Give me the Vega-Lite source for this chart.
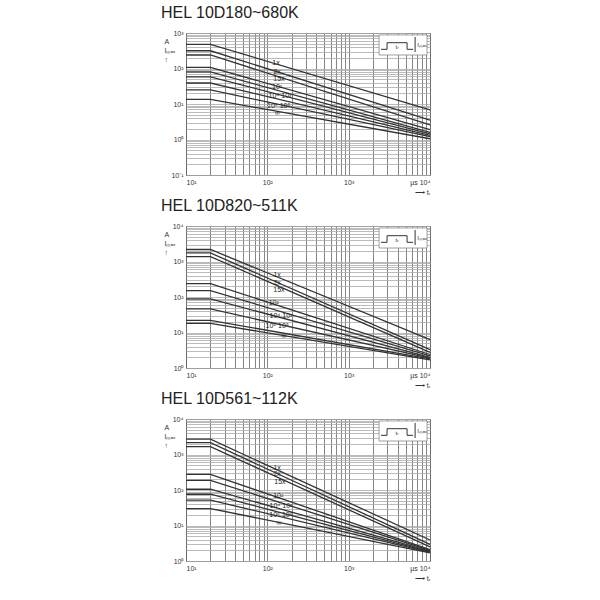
{
"$schema": "https://vega.github.io/schema/vega-lite/v6.json",
"padding": {"left": 160, "top": 4, "right": 5, "bottom": 5},
"background": "white",
"spacing": 1,
"config": {
  "font": "Liberation Sans",
  "view": {"stroke": "#777", "strokeWidth": 1},
  "axis": {"ticks": false, "domain": false, "grid": true, "labelFontSize": 7, "labelColor": "#333", "labelOverlap": false, "titleFontSize": 7, "titleFontWeight": "normal", "titleColor": "#333"},
  "axisX": {"gridColor": "#666", "gridWidth": 0.8, "labelPadding": 3},
  "axisY": {"gridColor": "#aaa", "gridWidth": 0.8, "labelPadding": 3},
  "title": {"anchor": "start", "frame": "group", "dx": -25, "fontSize": 16, "fontWeight": "normal", "color": "#222", "offset": 8}
},
"datasets": {
  "curves": [
    {"p":1,"c":"1x","t":10,"i":480},{"p":1,"c":"1x","t":20,"i":480},{"p":1,"c":"1x","t":10000,"i":6.8},
    {"p":1,"c":"2x","t":10,"i":316},{"p":1,"c":"2x","t":20,"i":316},{"p":1,"c":"2x","t":10000,"i":3.5},
    {"p":1,"c":"15x","t":10,"i":240},{"p":1,"c":"15x","t":20,"i":240},{"p":1,"c":"15x","t":10000,"i":2.6},
    {"p":1,"c":"1e2","t":10,"i":108},{"p":1,"c":"1e2","t":20,"i":108},{"p":1,"c":"1e2","t":10000,"i":1.9},
    {"p":1,"c":"1e3","t":10,"i":80},{"p":1,"c":"1e3","t":20,"i":80},{"p":1,"c":"1e3","t":10000,"i":1.6},
    {"p":1,"c":"1e4","t":10,"i":58},{"p":1,"c":"1e4","t":20,"i":58},{"p":1,"c":"1e4","t":10000,"i":1.45},
    {"p":1,"c":"1e5","t":10,"i":39},{"p":1,"c":"1e5","t":20,"i":39},{"p":1,"c":"1e5","t":10000,"i":1.3},
    {"p":1,"c":"1e6","t":10,"i":25},{"p":1,"c":"1e6","t":20,"i":25},{"p":1,"c":"1e6","t":10000,"i":1.2},
    {"p":1,"c":"inf","t":10,"i":13.5},{"p":1,"c":"inf","t":20,"i":13.5},{"p":1,"c":"inf","t":10000,"i":1.05},
    {"p":2,"c":"1x","t":10,"i":2180},{"p":2,"c":"1x","t":20,"i":2180},{"p":2,"c":"1x","t":10000,"i":6.3},
    {"p":2,"c":"2x","t":10,"i":1740},{"p":2,"c":"2x","t":20,"i":1740},{"p":2,"c":"2x","t":10000,"i":3.3},
    {"p":2,"c":"15x","t":10,"i":1380},{"p":2,"c":"15x","t":20,"i":1380},{"p":2,"c":"15x","t":10000,"i":2.75},
    {"p":2,"c":"1e2","t":10,"i":237},{"p":2,"c":"1e2","t":20,"i":237},{"p":2,"c":"1e2","t":10000,"i":2.4},
    {"p":2,"c":"1e3","t":10,"i":151},{"p":2,"c":"1e3","t":20,"i":151},{"p":2,"c":"1e3","t":10000,"i":2.2},
    {"p":2,"c":"1e4","t":10,"i":88},{"p":2,"c":"1e4","t":20,"i":88},{"p":2,"c":"1e4","t":10000,"i":2.0},
    {"p":2,"c":"1e5","t":10,"i":46},{"p":2,"c":"1e5","t":20,"i":46},{"p":2,"c":"1e5","t":10000,"i":1.9},
    {"p":2,"c":"1e6","t":10,"i":22},{"p":2,"c":"1e6","t":20,"i":22},{"p":2,"c":"1e6","t":10000,"i":1.8},
    {"p":2,"c":"inf","t":10,"i":18},{"p":2,"c":"inf","t":20,"i":18},{"p":2,"c":"inf","t":10000,"i":1.7},
    {"p":3,"c":"1x","t":10,"i":2700},{"p":3,"c":"1x","t":20,"i":2700},{"p":3,"c":"1x","t":10000,"i":3.9},
    {"p":3,"c":"2x","t":10,"i":2150},{"p":3,"c":"2x","t":20,"i":2150},{"p":3,"c":"2x","t":10000,"i":2.95},
    {"p":3,"c":"15x","t":10,"i":1660},{"p":3,"c":"15x","t":20,"i":1660},{"p":3,"c":"15x","t":10000,"i":2.5},
    {"p":3,"c":"1e2","t":10,"i":276},{"p":3,"c":"1e2","t":20,"i":276},{"p":3,"c":"1e2","t":10000,"i":2.1},
    {"p":3,"c":"1e3","t":10,"i":187},{"p":3,"c":"1e3","t":20,"i":187},{"p":3,"c":"1e3","t":10000,"i":2.0},
    {"p":3,"c":"1e4","t":10,"i":105},{"p":3,"c":"1e4","t":20,"i":105},{"p":3,"c":"1e4","t":10000,"i":1.9},
    {"p":3,"c":"1e5","t":10,"i":76},{"p":3,"c":"1e5","t":20,"i":76},{"p":3,"c":"1e5","t":10000,"i":1.8},
    {"p":3,"c":"1e6","t":10,"i":52},{"p":3,"c":"1e6","t":20,"i":52},{"p":3,"c":"1e6","t":10000,"i":1.75},
    {"p":3,"c":"inf","t":10,"i":30},{"p":3,"c":"inf","t":20,"i":30},{"p":3,"c":"inf","t":10000,"i":1.7}
  ],
  "labels": [
    {"p":1,"t":128,"i":143,"s":"1x"},{"p":1,"t":132,"i":79,"s":"2x"},{"p":1,"t":139,"i":50,"s":"15x"},{"p":1,"t":132,"i":30,"s":"10²"},{"p":1,"t":143,"i":16.8,"s":"10⁴ 10³"},{"p":1,"t":138,"i":8.7,"s":"10⁶ 10⁵"},{"p":1,"t":132,"i":5.6,"s":"∞"},
    {"p":2,"t":132,"i":427,"s":"1x"},{"p":2,"t":132,"i":245,"s":"2x"},{"p":2,"t":139,"i":162,"s":"15x"},{"p":2,"t":120,"i":68,"s":"10²"},{"p":2,"t":147,"i":29,"s":"10⁴ 10³"},{"p":2,"t":132,"i":15,"s":"10⁶ 10⁵"},{"p":2,"t":160,"i":7.8,"s":"∞"},
    {"p":3,"t":132,"i":427,"s":"1x"},{"p":3,"t":132,"i":277,"s":"2x"},{"p":3,"t":143,"i":170,"s":"15x"},{"p":3,"t":136,"i":68,"s":"10²"},{"p":3,"t":147,"i":35,"s":"10⁴ 10³"},{"p":3,"t":147,"i":19.5,"s":"10⁶ 10⁵"},{"p":3,"t":139,"i":12,"s":"∞"}
  ],
  "insetBox": [
    {"p":1,"t":2365,"t2":9200,"i":240,"i2":880},
    {"p":2,"t":2365,"t2":9200,"i":2400,"i2":8800},
    {"p":3,"t":2365,"t2":9200,"i":2400,"i2":8800}
  ],
  "insetLine": [
    {"p":1,"g":"pulse","o":1,"t":2500,"i":347},{"p":1,"g":"pulse","o":2,"t":2965,"i":347},{"p":1,"g":"pulse","o":3,"t":2965,"i":533},{"p":1,"g":"pulse","o":4,"t":5225,"i":533},{"p":1,"g":"pulse","o":5,"t":5225,"i":347},{"p":1,"g":"pulse","o":6,"t":6190,"i":347},
    {"p":1,"g":"arr","o":1,"t":6560,"i":292},{"p":1,"g":"arr","o":2,"t":6560,"i":771},
    {"p":2,"g":"pulse","o":1,"t":2500,"i":3470},{"p":2,"g":"pulse","o":2,"t":2965,"i":3470},{"p":2,"g":"pulse","o":3,"t":2965,"i":5330},{"p":2,"g":"pulse","o":4,"t":5225,"i":5330},{"p":2,"g":"pulse","o":5,"t":5225,"i":3470},{"p":2,"g":"pulse","o":6,"t":6190,"i":3470},
    {"p":2,"g":"arr","o":1,"t":6560,"i":2920},{"p":2,"g":"arr","o":2,"t":6560,"i":7710},
    {"p":3,"g":"pulse","o":1,"t":2500,"i":3470},{"p":3,"g":"pulse","o":2,"t":2965,"i":3470},{"p":3,"g":"pulse","o":3,"t":2965,"i":5330},{"p":3,"g":"pulse","o":4,"t":5225,"i":5330},{"p":3,"g":"pulse","o":5,"t":5225,"i":3470},{"p":3,"g":"pulse","o":6,"t":6190,"i":3470},
    {"p":3,"g":"arr","o":1,"t":6560,"i":2920},{"p":3,"g":"arr","o":2,"t":6560,"i":7710}
  ],
  "insetText": [
    {"p":1,"t":8000,"i":459,"s":"Iₘₐₓ"},{"p":1,"t":3935,"i":404,"s":"tᵣ"},
    {"p":2,"t":8000,"i":4590,"s":"Iₘₐₓ"},{"p":2,"t":3935,"i":4040,"s":"tᵣ"},
    {"p":3,"t":8000,"i":4590,"s":"Iₘₐₓ"},{"p":3,"t":3935,"i":4040,"s":"tᵣ"}
  ]
},
"vconcat": [
  {
    "width": 244, "height": 142,
    "title": {"text": "HEL 10D180~680K"},
    "layer": [
      {"data": {"name": "curves"}, "transform": [{"filter": "datum.p==1"}],
       "mark": {"type": "line", "color": "#333", "strokeWidth": 1.3},
       "encoding": {
         "x": {"field": "t", "type": "quantitative", "scale": {"type": "log", "domain": [10, 10000], "nice": false},
               "axis": {"values": [10,20,30,40,50,60,70,80,90,100,200,300,400,500,600,700,800,900,1000,2000,3000,4000,5000,6000,7000,8000,9000,10000],
                        "labelExpr": "datum.value==10?'10¹':datum.value==100?'10²':datum.value==1000?'10³':datum.value==10000?'µs 10⁴':''",
                        "title": "⟶ tᵣ", "titleAnchor": "end", "titlePadding": 3}},
         "y": {"field": "i", "type": "quantitative", "scale": {"type": "log", "domain": [0.1, 1000], "nice": false},
               "axis": {"values": [0.1,0.2,0.3,0.4,0.5,0.6,0.7,0.8,0.9,1,2,3,4,5,6,7,8,9,10,20,30,40,50,60,70,80,90,100,200,300,400,500,600,700,800,900,1000],
                        "labelExpr": "datum.value==0.1?'10⁻¹':datum.value==1?'10⁰':datum.value==10?'10¹':datum.value==100?'10²':datum.value==1000?'10³':''",
                        "title": ["     A", "Iₘₐₓ", " ↑"], "titleAngle": 0, "titleAlign": "left", "titleBaseline": "top", "titleX": -22, "titleY": 4}},
         "detail": {"field": "c"}
       }},
      {"data": {"name": "labels"}, "transform": [{"filter": "datum.p==1"}],
       "mark": {"type": "text", "fontSize": 7, "color": "#222"},
       "encoding": {"x": {"field": "t", "type": "quantitative"}, "y": {"field": "i", "type": "quantitative"}, "text": {"field": "s"}}},
      {"data": {"name": "insetBox"}, "transform": [{"filter": "datum.p==1"}],
       "mark": {"type": "rect", "fill": "white", "stroke": "#888", "strokeWidth": 0.8},
       "encoding": {"x": {"field": "t", "type": "quantitative"}, "x2": {"field": "t2"}, "y": {"field": "i", "type": "quantitative"}, "y2": {"field": "i2"}}},
      {"data": {"name": "insetLine"}, "transform": [{"filter": "datum.p==1"}],
       "mark": {"type": "line", "color": "#333", "strokeWidth": 1},
       "encoding": {"x": {"field": "t", "type": "quantitative"}, "y": {"field": "i", "type": "quantitative"}, "detail": {"field": "g"}, "order": {"field": "o"}}},
      {"data": {"name": "insetText"}, "transform": [{"filter": "datum.p==1"}],
       "mark": {"type": "text", "fontSize": 6, "color": "#333"},
       "encoding": {"x": {"field": "t", "type": "quantitative"}, "y": {"field": "i", "type": "quantitative"}, "text": {"field": "s"}}}
    ]
  },
  {
    "width": 244, "height": 142,
    "title": {"text": "HEL 10D820~511K"},
    "layer": [
      {"data": {"name": "curves"}, "transform": [{"filter": "datum.p==2"}],
       "mark": {"type": "line", "color": "#333", "strokeWidth": 1.3},
       "encoding": {
         "x": {"field": "t", "type": "quantitative", "scale": {"type": "log", "domain": [10, 10000], "nice": false},
               "axis": {"values": [10,20,30,40,50,60,70,80,90,100,200,300,400,500,600,700,800,900,1000,2000,3000,4000,5000,6000,7000,8000,9000,10000],
                        "labelExpr": "datum.value==10?'10¹':datum.value==100?'10²':datum.value==1000?'10³':datum.value==10000?'µs 10⁴':''",
                        "title": "⟶ tᵣ", "titleAnchor": "end", "titlePadding": 3}},
         "y": {"field": "i", "type": "quantitative", "scale": {"type": "log", "domain": [1, 10000], "nice": false},
               "axis": {"values": [1,2,3,4,5,6,7,8,9,10,20,30,40,50,60,70,80,90,100,200,300,400,500,600,700,800,900,1000,2000,3000,4000,5000,6000,7000,8000,9000,10000],
                        "labelExpr": "datum.value==1?'10⁰':datum.value==10?'10¹':datum.value==100?'10²':datum.value==1000?'10³':datum.value==10000?'10⁴':''",
                        "title": ["     A", "Iₘₐₓ", " ↑"], "titleAngle": 0, "titleAlign": "left", "titleBaseline": "top", "titleX": -22, "titleY": 4}},
         "detail": {"field": "c"}
       }},
      {"data": {"name": "labels"}, "transform": [{"filter": "datum.p==2"}],
       "mark": {"type": "text", "fontSize": 7, "color": "#222"},
       "encoding": {"x": {"field": "t", "type": "quantitative"}, "y": {"field": "i", "type": "quantitative"}, "text": {"field": "s"}}},
      {"data": {"name": "insetBox"}, "transform": [{"filter": "datum.p==2"}],
       "mark": {"type": "rect", "fill": "white", "stroke": "#888", "strokeWidth": 0.8},
       "encoding": {"x": {"field": "t", "type": "quantitative"}, "x2": {"field": "t2"}, "y": {"field": "i", "type": "quantitative"}, "y2": {"field": "i2"}}},
      {"data": {"name": "insetLine"}, "transform": [{"filter": "datum.p==2"}],
       "mark": {"type": "line", "color": "#333", "strokeWidth": 1},
       "encoding": {"x": {"field": "t", "type": "quantitative"}, "y": {"field": "i", "type": "quantitative"}, "detail": {"field": "g"}, "order": {"field": "o"}}},
      {"data": {"name": "insetText"}, "transform": [{"filter": "datum.p==2"}],
       "mark": {"type": "text", "fontSize": 6, "color": "#333"},
       "encoding": {"x": {"field": "t", "type": "quantitative"}, "y": {"field": "i", "type": "quantitative"}, "text": {"field": "s"}}}
    ]
  },
  {
    "width": 244, "height": 142,
    "title": {"text": "HEL 10D561~112K"},
    "layer": [
      {"data": {"name": "curves"}, "transform": [{"filter": "datum.p==3"}],
       "mark": {"type": "line", "color": "#333", "strokeWidth": 1.3},
       "encoding": {
         "x": {"field": "t", "type": "quantitative", "scale": {"type": "log", "domain": [10, 10000], "nice": false},
               "axis": {"values": [10,20,30,40,50,60,70,80,90,100,200,300,400,500,600,700,800,900,1000,2000,3000,4000,5000,6000,7000,8000,9000,10000],
                        "labelExpr": "datum.value==10?'10¹':datum.value==100?'10²':datum.value==1000?'10³':datum.value==10000?'µs 10⁴':''",
                        "title": "⟶ tᵣ", "titleAnchor": "end", "titlePadding": 3}},
         "y": {"field": "i", "type": "quantitative", "scale": {"type": "log", "domain": [1, 10000], "nice": false},
               "axis": {"values": [1,2,3,4,5,6,7,8,9,10,20,30,40,50,60,70,80,90,100,200,300,400,500,600,700,800,900,1000,2000,3000,4000,5000,6000,7000,8000,9000,10000],
                        "labelExpr": "datum.value==1?'10⁰':datum.value==10?'10¹':datum.value==100?'10²':datum.value==1000?'10³':datum.value==10000?'10⁴':''",
                        "title": ["     A", "Iₘₐₓ", " ↑"], "titleAngle": 0, "titleAlign": "left", "titleBaseline": "top", "titleX": -22, "titleY": 4}},
         "detail": {"field": "c"}
       }},
      {"data": {"name": "labels"}, "transform": [{"filter": "datum.p==3"}],
       "mark": {"type": "text", "fontSize": 7, "color": "#222"},
       "encoding": {"x": {"field": "t", "type": "quantitative"}, "y": {"field": "i", "type": "quantitative"}, "text": {"field": "s"}}},
      {"data": {"name": "insetBox"}, "transform": [{"filter": "datum.p==3"}],
       "mark": {"type": "rect", "fill": "white", "stroke": "#888", "strokeWidth": 0.8},
       "encoding": {"x": {"field": "t", "type": "quantitative"}, "x2": {"field": "t2"}, "y": {"field": "i", "type": "quantitative"}, "y2": {"field": "i2"}}},
      {"data": {"name": "insetLine"}, "transform": [{"filter": "datum.p==3"}],
       "mark": {"type": "line", "color": "#333", "strokeWidth": 1},
       "encoding": {"x": {"field": "t", "type": "quantitative"}, "y": {"field": "i", "type": "quantitative"}, "detail": {"field": "g"}, "order": {"field": "o"}}},
      {"data": {"name": "insetText"}, "transform": [{"filter": "datum.p==3"}],
       "mark": {"type": "text", "fontSize": 6, "color": "#333"},
       "encoding": {"x": {"field": "t", "type": "quantitative"}, "y": {"field": "i", "type": "quantitative"}, "text": {"field": "s"}}}
    ]
  }
]
}
